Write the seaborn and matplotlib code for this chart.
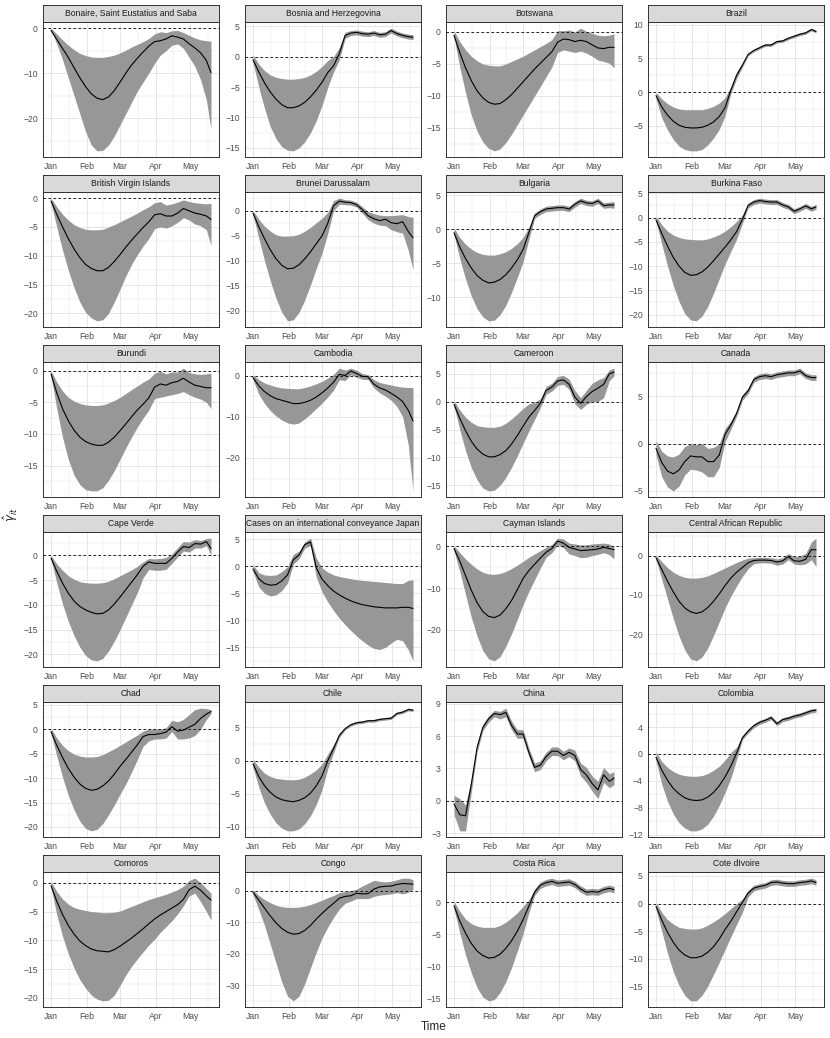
import numpy as np
import pandas as pd
import matplotlib
matplotlib.use("Agg")
import matplotlib.pyplot as plt
import matplotlib.dates as mdates
import seaborn as sns

sns.set_theme(style="white")
plt.rcParams["font.family"] = ["Liberation Sans", "DejaVu Sans"]

# days since 1 Jan 2020
days = [0, 5, 10, 15, 20, 25, 30, 35, 40, 45, 50, 55, 60, 65, 70,
        75, 80, 85, 90, 95, 100, 105, 110, 115, 120, 125, 130, 135, 139]

#  estimates, lower and upper band
bonaire_mean = [-0.5,-2.5,-4.5,-6.5,-8.8,-11,-13,-14.6,-15.6,-15.9,-15.3,-13.9,-12.0,-10.0,-8.2,-6.7,-5.3,-4,-3,-2.8,-2.4,-1.7,-2.0,-2.4,-3.5,-4.4,-5.5,-7.2,-9.9]
bonaire_lo = [-0.5,-3.5,-7,-11,-15,-19,-23,-26,-27.3,-27.2,-26,-24,-21.5,-19,-16.5,-14,-12,-10,-7.8,-6,-5,-3.8,-3.5,-4.5,-6.5,-8.5,-11.5,-16,-22.5]
bonaire_hi = [0,-1.3,-2.6,-3.8,-4.8,-5.6,-6.1,-6.4,-6.5,-6.5,-6.3,-6.0,-5.5,-4.9,-4.2,-3.6,-3.0,-2.3,-1.3,-0.8,-1.0,-0.6,-0.5,-1.0,-1.6,-2.2,-2.6,-2.8,-2.9]

bosnia_mean = [-0.5,-2.5,-4.3,-5.8,-7.0,-7.9,-8.4,-8.4,-8.1,-7.5,-6.6,-5.5,-4.2,-2.6,-1.5,0.5,3.5,3.9,4.0,3.8,3.7,3.9,3.6,3.7,4.3,3.8,3.5,3.3,3.2]
bosnia_lo = [-1.0,-5,-8.5,-11.5,-13.5,-14.8,-15.4,-15.5,-15,-14,-12.5,-10.5,-8,-5,-2.5,-0.5,3.0,3.5,3.6,3.4,3.3,3.5,3.2,3.3,3.9,3.4,3.1,2.9,2.8]
bosnia_hi = [0.3,-1.2,-2.3,-3.0,-3.4,-3.6,-3.7,-3.7,-3.6,-3.4,-3.0,-2.4,-1.6,-0.6,0.0,1.5,4.0,4.3,4.4,4.2,4.1,4.3,4.0,4.1,4.7,4.2,3.9,3.7,3.6]

botswana_mean = [-0.5,-3.2,-5.6,-7.6,-9.2,-10.3,-11.0,-11.3,-11.2,-10.6,-9.8,-8.8,-7.8,-6.8,-5.8,-4.9,-4.0,-3.1,-1.6,-1.1,-1.2,-1.5,-1.3,-1.5,-2.0,-2.5,-2.6,-2.4,-2.4]
botswana_lo = [-0.8,-5.5,-9.5,-13,-15.5,-17.2,-18.2,-18.6,-18.3,-17.3,-16,-14.5,-13,-11.5,-10,-8.5,-7.0,-5.5,-3.2,-2.8,-3.0,-3.2,-3.0,-3.3,-3.8,-4.4,-4.6,-4.9,-5.6]
botswana_hi = [0.2,-1.5,-2.8,-3.8,-4.5,-5.0,-5.2,-5.3,-5.3,-5.0,-4.6,-4.2,-3.8,-3.3,-2.8,-2.3,-1.8,-1.2,0.2,0.2,0.3,0.0,0.6,0.1,-0.2,-0.5,-0.6,-0.5,-0.3]

brazil_mean = [-0.5,-2.2,-3.4,-4.3,-4.9,-5.2,-5.3,-5.3,-5.2,-4.9,-4.4,-3.6,-2.3,0.3,2.5,4.0,5.6,6.2,6.6,7.0,7.0,7.5,7.6,8.0,8.3,8.6,8.8,9.3,9.0]
brazil_lo = [-1.0,-3.8,-5.6,-7.0,-8.0,-8.5,-8.7,-8.7,-8.5,-7.8,-6.8,-5.5,-3.5,-0.2,2.0,3.7,5.4,6.0,6.4,6.8,6.8,7.3,7.4,7.8,8.1,8.4,8.6,9.1,8.8]
brazil_hi = [0,-1.0,-1.7,-2.2,-2.5,-2.6,-2.6,-2.6,-2.6,-2.4,-2.1,-1.6,-0.8,0.8,3.0,4.3,5.8,6.4,6.8,7.2,7.2,7.7,7.8,8.2,8.5,8.8,9.0,9.5,9.2]

bvi_mean = [-0.5,-2.8,-5,-7,-8.8,-10.3,-11.5,-12.2,-12.6,-12.6,-12.0,-11.0,-9.8,-8.5,-7.3,-6.2,-5.1,-4.1,-2.9,-2.7,-3.1,-3.1,-2.6,-1.8,-2.2,-2.6,-2.8,-3.1,-3.7]
bvi_lo = [-0.8,-5,-9,-12.5,-15.5,-18,-19.8,-20.8,-21.3,-21.1,-20,-18,-15.8,-13.5,-11.5,-9.8,-8.3,-7,-5.3,-5.0,-5.2,-4.8,-4.2,-3.4,-3.8,-4.5,-4.8,-5.5,-8.2]
bvi_hi = [0,-1.5,-2.8,-3.8,-4.6,-5.1,-5.4,-5.5,-5.5,-5.4,-5.0,-4.6,-4.1,-3.6,-3.1,-2.6,-2.0,-1.5,-0.8,-0.6,-1.2,-1.0,-0.7,-0.3,-0.6,-0.8,-0.9,-1.0,-0.9]

brunei_mean = [-0.5,-3.2,-5.6,-7.8,-9.6,-10.9,-11.6,-11.5,-10.8,-9.6,-8.2,-6.6,-5.0,-2.5,1.0,1.9,1.7,1.6,1.2,0.2,-1.0,-1.6,-2.0,-1.7,-2.4,-2.6,-2.2,-4.2,-5.4]
brunei_lo = [-0.8,-5.5,-10,-14,-17.5,-20.3,-22,-21.8,-20.3,-17.8,-14.8,-11.5,-8.5,-4.5,0.0,1.3,1.2,1.1,0.7,-0.5,-1.8,-2.5,-2.9,-3.0,-3.8,-4.2,-4.5,-8,-11.8]
brunei_hi = [0,-1.7,-3.1,-4.1,-4.8,-5.1,-5.1,-5.0,-4.7,-4.1,-3.3,-2.4,-1.5,-0.3,2.0,2.5,2.2,2.1,1.7,0.8,-0.2,-0.6,-0.9,-1.0,-1.0,-0.9,-0.8,-1.2,-1.3]

bulgaria_mean = [-0.5,-2.6,-4.3,-5.7,-6.8,-7.5,-7.9,-7.8,-7.4,-6.7,-5.7,-4.5,-3.0,-0.5,2.0,2.6,3.0,3.1,3.2,3.2,3.0,3.7,4.2,3.9,3.8,4.2,3.5,3.6,3.6]
bulgaria_lo = [-0.8,-4.3,-7.3,-9.8,-11.7,-12.9,-13.5,-13.4,-12.6,-11.2,-9.3,-7.1,-4.8,-1.5,1.6,2.2,2.6,2.7,2.8,2.8,2.6,3.3,3.8,3.5,3.4,3.8,3.1,3.2,3.1]
bulgaria_hi = [0.2,-1.2,-2.2,-2.9,-3.4,-3.7,-3.8,-3.8,-3.6,-3.3,-2.8,-2.1,-1.2,0.3,2.4,3.0,3.4,3.5,3.6,3.6,3.4,4.1,4.6,4.3,4.2,4.6,3.9,4.0,4.1]

burkina_mean = [-0.5,-3.3,-5.9,-8.2,-10.0,-11.3,-11.9,-11.8,-11.2,-10.2,-8.9,-7.5,-6.1,-4.6,-2.9,-0.4,2.5,3.2,3.5,3.3,3.2,3.2,2.6,2.2,1.3,1.8,2.4,1.8,2.2]
burkina_lo = [-0.8,-5.5,-10,-14,-17.3,-19.8,-21.1,-21.3,-20.3,-18.3,-15.6,-12.6,-9.6,-7.0,-4.5,-1.2,2.0,2.7,3.0,2.8,2.7,2.7,2.1,1.7,0.8,1.3,1.9,1.3,1.7]
burkina_hi = [0.2,-1.5,-2.8,-3.6,-4.1,-4.4,-4.5,-4.6,-4.6,-4.4,-4.0,-3.5,-2.8,-1.9,-0.8,0.5,3.0,3.7,4.0,3.8,3.7,3.7,3.1,2.7,1.8,2.3,2.9,2.3,2.7]

burundi_mean = [-0.5,-3.5,-6.0,-7.9,-9.4,-10.5,-11.2,-11.6,-11.8,-11.8,-11.3,-10.5,-9.5,-8.4,-7.3,-6.2,-5.3,-4.3,-2.6,-2.1,-2.3,-1.9,-1.7,-1.2,-1.8,-2.3,-2.5,-2.7,-2.7]
burundi_lo = [-0.8,-6,-10.5,-14,-16.5,-18,-18.8,-19,-19,-18.5,-17.3,-15.8,-14,-12.2,-10.5,-8.9,-7.5,-6.2,-4.4,-4.2,-4.0,-3.8,-3.6,-3.3,-3.8,-4.2,-4.5,-5.0,-6.0]
burundi_hi = [0,-1.8,-3.2,-4.2,-4.8,-5.2,-5.4,-5.5,-5.5,-5.4,-5.1,-4.7,-4.2,-3.6,-3.0,-2.4,-1.8,-1.3,-0.4,-0.1,-0.5,-0.2,-0.2,0.4,-0.3,-0.5,-0.6,-0.5,-0.4]

cambodia_mean = [-0.5,-2.5,-3.9,-4.9,-5.6,-6.0,-6.4,-6.8,-6.8,-6.5,-6.0,-5.2,-4.2,-3.0,-1.6,0.3,0.0,1.1,0.5,-0.2,-0.3,-2.1,-3.0,-3.5,-4.3,-5.2,-6.3,-8.5,-11.0]
cambodia_lo = [-1.0,-4.5,-6.8,-8.5,-9.8,-10.8,-11.5,-11.8,-11.5,-10.5,-9.3,-8.0,-6.7,-5.2,-3.5,-1.0,-1.2,0.2,-0.4,-0.9,-1.0,-3.0,-4.2,-5.0,-6.0,-7.5,-10,-17,-28]
cambodia_hi = [0.2,-1.0,-1.8,-2.3,-2.7,-3.0,-3.1,-3.2,-3.2,-2.9,-2.5,-2.0,-1.4,-0.6,0.3,1.8,1.3,1.8,1.3,0.5,0.2,-1.0,-1.7,-2.0,-2.3,-2.6,-2.8,-2.9,-2.9]

cameroon_mean = [-0.5,-3.0,-5.2,-7.1,-8.5,-9.4,-9.9,-9.9,-9.5,-8.8,-7.6,-6.1,-4.4,-2.8,-1.6,-0.3,2.0,2.6,3.7,3.9,3.1,0.8,-0.3,0.9,1.8,2.4,3.1,5.0,5.3]
cameroon_lo = [-0.8,-5,-8.8,-11.8,-14,-15.5,-16,-15.9,-15,-13.6,-11.8,-9.7,-7.5,-5.3,-3.2,-1.1,1.3,1.9,2.9,3.1,2.2,-0.4,-1.4,-0.5,0.0,0.0,0.7,3.8,4.6]
cameroon_hi = [0.2,-1.5,-2.8,-3.7,-4.3,-4.5,-4.6,-4.6,-4.4,-3.9,-3.1,-2.2,-1.2,-0.4,-0.1,0.5,2.7,3.3,4.5,4.7,4.0,2.0,0.7,2.0,3.3,3.9,4.3,5.7,6.0]

canada_mean = [-0.5,-2.0,-2.9,-3.2,-2.8,-1.9,-1.3,-1.4,-1.4,-1.9,-1.9,-1.2,1.0,2.0,3.2,4.9,5.6,6.8,7.1,7.2,7.1,7.3,7.4,7.5,7.5,7.7,7.2,7.0,7.0]
canada_lo = [-1.2,-3.5,-4.6,-5.0,-4.5,-3.3,-2.7,-2.8,-3.0,-3.5,-3.5,-2.5,0.2,1.5,2.9,4.6,5.3,6.5,6.8,6.9,6.8,7.0,7.1,7.2,7.2,7.4,6.9,6.7,6.7]
canada_hi = [0.3,-0.8,-1.3,-1.4,-1.1,-0.3,0.0,-0.1,0.0,-0.5,-0.4,0.0,1.6,2.4,3.5,5.2,5.9,7.1,7.4,7.5,7.4,7.6,7.7,7.8,7.8,8.0,7.5,7.3,7.3]

capeverde_mean = [-0.5,-3.2,-5.6,-7.6,-9.2,-10.3,-11.0,-11.5,-11.8,-11.7,-11.0,-9.8,-8.4,-6.9,-5.4,-3.9,-2.2,-1.3,-1.6,-1.6,-1.6,-0.6,0.7,1.8,1.6,2.4,2.3,2.8,1.4]
capeverde_lo = [-0.8,-5.5,-9.8,-13.3,-16.2,-18.5,-20.2,-21.1,-21.3,-20.8,-19.3,-17.3,-15,-12.5,-10,-7.5,-4.5,-2.8,-3.0,-3.0,-2.8,-1.6,-0.3,0.9,0.7,1.5,1.5,2.0,0.0]
capeverde_hi = [0,-1.7,-3.0,-4.1,-4.8,-5.3,-5.5,-5.6,-5.6,-5.5,-5.2,-4.7,-4.1,-3.5,-2.9,-2.2,-1.3,-0.6,-0.7,-0.6,-0.4,0.3,1.6,2.8,2.7,3.2,3.0,3.4,3.5]

japan_mean = [-0.5,-2.3,-3.2,-3.5,-3.4,-2.7,-1.6,1.2,2.1,4.0,4.5,-0.3,-2.4,-3.6,-4.6,-5.3,-5.9,-6.4,-6.8,-7.1,-7.3,-7.5,-7.6,-7.7,-7.7,-7.7,-7.6,-7.6,-7.8]
japan_lo = [-1.0,-3.8,-5.0,-5.5,-5.3,-4.5,-3.1,0.4,1.4,3.4,3.8,-2.0,-4.8,-6.6,-8.2,-9.6,-10.8,-11.9,-12.9,-13.8,-14.6,-15.2,-15.4,-15.0,-14.2,-13.5,-13.8,-15.5,-17.5]
japan_hi = [0.3,-1.2,-1.6,-1.7,-1.6,-1.0,-0.1,2.2,2.8,4.5,5.2,1.5,-0.3,-1.1,-1.6,-1.9,-2.1,-2.3,-2.5,-2.6,-2.7,-2.8,-2.9,-3.0,-3.1,-3.2,-3.2,-2.6,-2.5]

cayman_mean = [-0.5,-3.5,-7.0,-10.5,-13.5,-15.6,-16.8,-17.1,-16.5,-15.0,-13.0,-10.4,-7.7,-5.8,-4.3,-2.8,-1.4,-0.5,1.3,0.8,-0.2,-0.6,-1.0,-0.9,-0.8,-0.6,-0.2,-0.5,-0.8]
cayman_lo = [-1.0,-6,-11.5,-17,-21.5,-25,-27,-27.5,-26.5,-24,-21,-17.5,-14,-10.8,-8,-5.2,-2.6,-1.5,0.4,-0.3,-1.8,-2.2,-2.7,-2.6,-2.2,-1.9,-1.5,-2.0,-3.0]
cayman_hi = [0.2,-1.5,-3.0,-4.3,-5.4,-6.2,-6.6,-6.7,-6.5,-6.0,-5.3,-4.5,-3.6,-2.6,-1.8,-1.0,-0.2,0.5,2.0,1.8,0.8,0.6,0.4,0.4,0.6,0.7,0.8,0.6,0.0]

car_mean = [-0.5,-3.5,-6.5,-9.2,-11.6,-13.3,-14.3,-14.7,-14.3,-13.2,-11.6,-9.7,-7.6,-5.7,-4.2,-3.0,-1.8,-1.2,-1.1,-1.1,-1.2,-1.6,-1.3,-0.2,-1.3,-1.4,-0.9,1.6,1.5]
car_lo = [-1.0,-6,-11,-16,-20.5,-24,-26.3,-26.8,-25.8,-23.5,-20.3,-16.8,-13.3,-10.3,-7.7,-5.3,-3.3,-2.0,-1.8,-1.8,-1.9,-2.4,-2.1,-1.0,-2.1,-2.3,-2.1,-1.0,-2.8]
car_hi = [0.2,-1.5,-3.0,-4.2,-5.0,-5.5,-5.7,-5.7,-5.5,-5.1,-4.5,-3.8,-3.1,-2.4,-1.7,-1.1,-0.6,-0.5,-0.4,-0.4,-0.5,-0.8,-0.5,0.6,-0.2,-0.1,0.6,3.5,4.5]

chad_mean = [-0.5,-3.3,-5.8,-8.0,-9.8,-11.2,-12.1,-12.5,-12.3,-11.6,-10.6,-9.2,-7.6,-6.2,-4.7,-3.2,-1.5,-1.1,-1.1,-0.9,-0.6,0.5,-0.4,-0.2,0.4,1.0,2.2,3.1,3.6]
chad_lo = [-0.8,-5.5,-9.8,-13.5,-16.5,-18.8,-20.3,-20.8,-20.5,-19.3,-17.5,-15.5,-13.3,-11.2,-8.8,-6.2,-3.5,-2.4,-2.0,-2.0,-1.8,-0.5,-2.0,-2.0,-1.8,-1.3,0.0,2.0,3.2]
chad_hi = [0.2,-1.8,-3.3,-4.4,-5.1,-5.5,-5.7,-5.7,-5.6,-5.2,-4.6,-4.0,-3.3,-2.6,-1.9,-1.2,-0.4,0.0,0.1,0.0,0.3,1.8,1.5,2.0,3.0,4.0,4.3,4.2,4.0]

chile_mean = [-0.5,-2.4,-3.8,-4.8,-5.5,-5.9,-6.1,-6.2,-6.0,-5.6,-4.9,-3.8,-2.3,0.0,1.8,3.8,4.8,5.4,5.7,5.8,6.0,6.0,6.2,6.3,6.4,7.1,7.3,7.7,7.6]
chile_lo = [-1.0,-4.0,-6.4,-8.1,-9.4,-10.2,-10.6,-10.6,-10.3,-9.5,-8.3,-6.6,-4.4,-1.2,1.2,3.5,4.6,5.2,5.5,5.6,5.8,5.8,6.0,6.1,6.2,6.9,7.1,7.5,7.4]
chile_hi = [0.2,-1.0,-1.9,-2.4,-2.7,-2.8,-2.9,-2.9,-2.8,-2.5,-2.0,-1.4,-0.5,1.0,2.4,4.1,5.0,5.6,5.9,6.0,6.2,6.2,6.4,6.5,6.6,7.3,7.5,7.9,7.8]

china_mean = [-0.3,-1.3,-1.4,1.5,4.9,6.8,7.6,8.1,8.0,8.2,7.0,6.2,6.2,4.5,3.1,3.3,4.1,4.6,4.6,4.2,4.5,4.2,2.9,2.4,1.6,1.0,2.4,1.8,2.1]
china_lo = [-1.3,-2.8,-2.8,0.8,4.5,6.5,7.3,7.8,7.6,7.8,6.6,5.8,5.8,4.1,2.7,2.9,3.7,4.2,4.2,3.8,4.1,3.7,2.3,1.7,0.9,0.2,1.7,1.2,1.5]
china_hi = [0.5,0.2,-0.4,2.0,5.3,7.1,7.9,8.4,8.3,8.6,7.4,6.6,6.6,4.9,3.5,3.7,4.5,5.0,5.0,4.6,4.9,4.7,3.5,3.1,2.3,1.8,3.1,2.5,2.7]

colombia_mean = [-0.5,-2.4,-3.9,-5.1,-5.9,-6.5,-6.8,-6.9,-6.8,-6.4,-5.7,-4.7,-3.4,-1.8,0.1,2.4,3.4,4.2,4.7,5.0,5.4,4.5,5.1,5.3,5.6,5.8,6.1,6.4,6.5]
colombia_lo = [-1.0,-4.5,-7.0,-8.9,-10.2,-11.0,-11.4,-11.4,-11.1,-10.4,-9.2,-7.6,-5.7,-3.6,-0.8,2.1,3.1,3.9,4.4,4.7,5.1,4.2,4.8,5.0,5.3,5.5,5.8,6.1,6.2]
colombia_hi = [0.3,-1.1,-2.0,-2.6,-3.0,-3.2,-3.3,-3.3,-3.2,-2.9,-2.4,-1.8,-0.9,0.2,1.0,2.7,3.7,4.5,5.0,5.3,5.7,4.8,5.4,5.6,5.9,6.1,6.4,6.7,6.8]

comoros_mean = [-0.5,-3.2,-5.5,-7.4,-8.9,-10.1,-10.9,-11.5,-11.8,-11.9,-12.0,-11.6,-11.0,-10.3,-9.6,-8.8,-8.0,-7.1,-6.3,-5.6,-5.0,-4.4,-3.8,-2.9,-1.2,-0.6,-1.3,-2.3,-3.0]
comoros_lo = [-0.8,-5.5,-9.3,-12.3,-14.8,-16.8,-18.3,-19.5,-20.2,-20.5,-20.4,-19.5,-17.8,-16.0,-14.5,-13.2,-12.0,-10.8,-9.8,-8.6,-7.6,-6.6,-5.4,-4.0,-2.3,-1.8,-3.3,-5.0,-6.5]
comoros_hi = [0.2,-1.5,-2.8,-3.7,-4.3,-4.6,-4.8,-5.0,-5.1,-5.2,-5.2,-5.1,-4.9,-4.5,-4.1,-3.7,-3.3,-2.9,-2.6,-2.3,-2.0,-1.6,-1.2,-0.6,0.4,0.8,0.0,-1.0,-1.8]

congo_mean = [-0.5,-3.0,-5.5,-8.0,-10.2,-12.0,-13.2,-13.8,-13.6,-12.6,-11.0,-9.0,-7.2,-5.5,-4.0,-2.4,-1.8,-1.6,-0.8,-1.0,-0.9,0.5,1.2,1.4,1.5,2.0,2.3,2.2,2.1]
congo_lo = [-1.2,-6,-11,-17,-23,-29,-33.5,-35,-33.5,-29.5,-24.5,-19.5,-15.0,-11.5,-8.5,-5.8,-4.0,-3.3,-2.5,-2.5,-2.5,-1.8,-1.4,-1.2,-1.0,-0.6,-1.0,-0.5,0.5]
congo_hi = [0.3,-1.5,-2.8,-3.8,-4.6,-5.1,-5.3,-5.3,-5.2,-4.9,-4.4,-3.7,-3.0,-2.2,-1.5,-0.6,-0.2,0.0,0.5,1.5,2.4,3.3,3.0,2.8,3.0,3.5,4.0,4.0,3.5]

costarica_mean = [-0.5,-2.9,-4.8,-6.4,-7.6,-8.3,-8.7,-8.6,-8.1,-7.2,-6.0,-4.5,-2.7,-0.6,1.6,2.7,3.1,3.3,3.0,3.1,3.2,2.8,2.1,1.6,1.7,1.6,2.0,2.2,2.0]
costarica_lo = [-1.0,-4.8,-8.2,-11.0,-13.3,-14.8,-15.4,-15.2,-14.1,-12.4,-10.2,-7.6,-4.9,-1.6,1.1,2.2,2.6,2.8,2.5,2.6,2.7,2.3,1.6,1.1,1.2,1.1,1.5,1.7,1.5]
costarica_hi = [0.2,-1.4,-2.6,-3.3,-3.7,-3.9,-3.9,-3.9,-3.6,-3.1,-2.4,-1.6,-0.6,0.4,2.1,3.2,3.6,3.8,3.5,3.6,3.7,3.3,2.6,2.1,2.2,2.1,2.5,2.7,2.5]

ivoire_mean = [-0.5,-3.0,-5.2,-7.0,-8.4,-9.3,-9.8,-9.8,-9.5,-8.8,-7.8,-6.4,-4.7,-3.2,-1.5,0.2,1.9,2.8,3.1,3.3,3.8,3.9,3.7,3.6,3.6,3.8,3.9,4.1,3.8]
ivoire_lo = [-1.0,-5,-9,-12.3,-14.8,-16.6,-17.6,-17.6,-16.6,-14.9,-12.8,-10.6,-8.3,-6.0,-3.8,-1.6,1.2,2.3,2.6,2.8,3.3,3.4,3.2,3.1,3.1,3.3,3.4,3.6,3.3]
ivoire_hi = [0.2,-1.6,-2.9,-3.7,-4.3,-4.5,-4.6,-4.6,-4.4,-3.9,-3.3,-2.6,-1.8,-0.9,0.0,0.8,2.4,3.3,3.6,3.8,4.3,4.4,4.2,4.1,4.1,4.3,4.4,4.6,4.3]

panels = [
    ("Bonaire, Saint Eustatius and Saba", bonaire_mean, bonaire_lo, bonaire_hi, [0, -10, -20]),
    ("Bosnia and Herzegovina", bosnia_mean, bosnia_lo, bosnia_hi, [5, 0, -5, -10, -15]),
    ("Botswana", botswana_mean, botswana_lo, botswana_hi, [0, -5, -10, -15]),
    ("Brazil", brazil_mean, brazil_lo, brazil_hi, [10, 5, 0, -5]),
    ("British Virgin Islands", bvi_mean, bvi_lo, bvi_hi, [0, -5, -10, -15, -20]),
    ("Brunei Darussalam", brunei_mean, brunei_lo, brunei_hi, [0, -5, -10, -15, -20]),
    ("Bulgaria", bulgaria_mean, bulgaria_lo, bulgaria_hi, [5, 0, -5, -10]),
    ("Burkina Faso", burkina_mean, burkina_lo, burkina_hi, [5, 0, -5, -10, -15, -20]),
    ("Burundi", burundi_mean, burundi_lo, burundi_hi, [0, -5, -10, -15, -20]),
    ("Cambodia", cambodia_mean, cambodia_lo, cambodia_hi, [0, -10, -20]),
    ("Cameroon", cameroon_mean, cameroon_lo, cameroon_hi, [5, 0, -5, -10, -15]),
    ("Canada", canada_mean, canada_lo, canada_hi, [5, 0, -5]),
    ("Cape Verde", capeverde_mean, capeverde_lo, capeverde_hi, [0, -5, -10, -15, -20]),
    ("Cases on an international conveyance Japan", japan_mean, japan_lo, japan_hi, [5, 0, -5, -10, -15]),
    ("Cayman Islands", cayman_mean, cayman_lo, cayman_hi, [0, -10, -20]),
    ("Central African Republic", car_mean, car_lo, car_hi, [0, -10, -20]),
    ("Chad", chad_mean, chad_lo, chad_hi, [5, 0, -5, -10, -15, -20]),
    ("Chile", chile_mean, chile_lo, chile_hi, [5, 0, -5, -10]),
    ("China", china_mean, china_lo, china_hi, [9, 6, 3, 0, -3]),
    ("Colombia", colombia_mean, colombia_lo, colombia_hi, [4, 0, -4, -8, -12]),
    ("Comoros", comoros_mean, comoros_lo, comoros_hi, [0, -5, -10, -15, -20]),
    ("Congo", congo_mean, congo_lo, congo_hi, [0, -10, -20, -30]),
    ("Costa Rica", costarica_mean, costarica_lo, costarica_hi, [0, -5, -10, -15]),
    ("Cote dIvoire", ivoire_mean, ivoire_lo, ivoire_hi, [5, 0, -5, -10, -15]),
]

month_labels = ["Jan", "Feb", "Mar", "Apr", "May"]
month_starts = pd.to_datetime(["2020-01-01", "2020-02-01", "2020-03-01", "2020-04-01", "2020-05-01"])

# long table for seaborn
start = pd.Timestamp("2020-01-01")
dates = start + pd.to_timedelta(days, unit="D")
frames = []
for name, m, lo, hi, _ in panels:
    frames.append(pd.DataFrame({"country": name, "date": dates, "est": m, "lo": lo, "hi": hi}))
df = pd.concat(frames, ignore_index=True)

W, H = 830, 1038
col_left = [43, 245, 446, 648]
pw, ph, sh = 176, 135, 17
RIBBON = "#979797"
GRID = "#E6E6E6"
BORDER = "#333333"

fig = plt.figure(figsize=(W / 100, H / 100), dpi=100)

xnum = mdates.date2num(dates)
xpad = 0.05 * (xnum[-1] - xnum[0])
xmaj = mdates.date2num(month_starts)
xmin = list((xmaj[:-1] + xmaj[1:]) / 2) + [xmaj[-1] + 15]

for i, (name, m, lo, hi, yt) in enumerate(panels):
    r, c = divmod(i, 4)
    top = 22 + 170 * r
    ax = fig.add_axes([col_left[c] / W, 1 - (top + ph) / H, pw / W, ph / H])
    sub = df[df["country"] == name]

    ax.fill_between(sub["date"], sub["lo"], sub["hi"], color=RIBBON, lw=0, zorder=2)
    sns.lineplot(data=sub, x="date", y="est", color="black", lw=0.8, ax=ax,
                 legend=False, zorder=3)
    ax.axhline(0, color="black", lw=0.6, ls=(0, (3, 3)), zorder=4)

    ymin = min(min(lo), 0)
    ymax = max(max(hi), 0)
    ypad = 0.05 * (ymax - ymin)
    ax.set_xlim(xnum[0] - xpad, xnum[-1] + xpad)

    ax.set_xticks(xmaj)
    ax.set_xticklabels(month_labels)
    ax.set_xticks(xmin, minor=True)
    ax.set_yticks(yt)
    ys = sorted(yt)
    step = ys[1] - ys[0]
    ymi = [v + step / 2 for v in [ys[0] - step] + ys]
    ax.set_yticks(ymi, minor=True)
    ax.set_ylim(ymin - ypad, ymax + ypad)

    ax.grid(which="major", color=GRID, lw=0.7)
    ax.grid(which="minor", color=GRID, lw=0.35)
    ax.set_axisbelow(True)
    ax.set_xlabel("")
    ax.set_ylabel("")
    ax.tick_params(which="major", length=2.2, width=0.5, color=BORDER,
                   labelsize=6.2, labelcolor="#4D4D4D", pad=1.5)
    ax.tick_params(which="minor", length=0)
    for s in ax.spines.values():
        s.set_color(BORDER)
        s.set_linewidth(0.7)

    # facet strip
    sax = fig.add_axes([col_left[c] / W, 1 - top / H, pw / W, sh / H])
    sax.set_facecolor("#D9D9D9")
    sax.set_xticks([])
    sax.set_yticks([])
    for s in sax.spines.values():
        s.set_color(BORDER)
        s.set_linewidth(0.7)
    sax.text(0.5, 0.5, name, ha="center", va="center", fontsize=6.2,
             color="#1A1A1A", transform=sax.transAxes)

fig.text(433.5 / W, 1 - 1027 / H, "Time", ha="center", va="center", fontsize=8.5)
fig.text(11 / W, 1 - 515 / H, r"$\hat{\gamma}_{it}$", ha="center", va="center",
         rotation=90, fontsize=8.5)

fig.savefig("out.png", dpi=100)
